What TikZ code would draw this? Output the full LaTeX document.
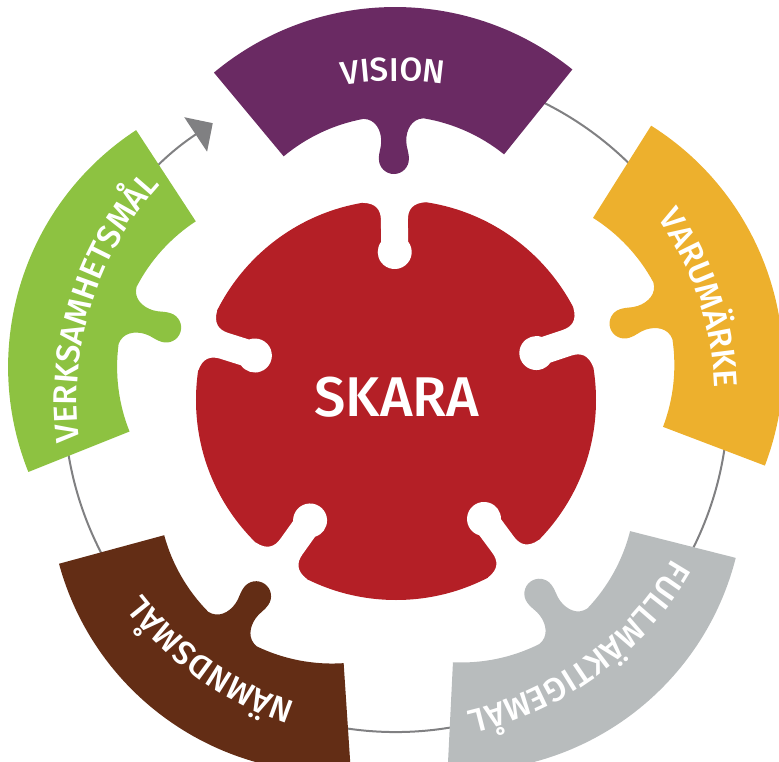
\documentclass[tikz,border=0pt]{standalone}
\usepackage{fontspec}
\setmainfont{Fira Sans}
\newfontfamily\lblfam{Fira Sans}[UprightFont=* Medium]
\usetikzlibrary{arrows.meta, decorations.text}
\definecolor{vision}{RGB}{106, 42, 99}
\definecolor{varumarke}{RGB}{237, 176, 45}
\definecolor{fullmakt}{RGB}{184, 188, 189}
\definecolor{namnd}{RGB}{99, 45, 21}
\definecolor{verksamhet}{RGB}{141, 194, 65}
\definecolor{skara}{RGB}{180, 31, 38}
\definecolor{ringline}{RGB}{128, 128, 130}
\newcommand{\lblfont}{\lblfam\fontsize{33}{36}\selectfont}

% one puzzle piece of the ring: #1 direction, #2 colour, #3 label
\newcommand{\piece}[3]{%
  \begin{scope}[rotate=#1-90]
    \fill[#2] (-179.2,329) arc[start angle=129.3, end angle=50.7, radius=283]
      -- (110.2,244.7) arc[start angle=50.7, end angle=80.07, radius=174]
      .. controls (18,281) and (12.5,270) .. (12.5,259)
      .. controls (12.5,252) and (15,249) .. (15,241)
      arc[start angle=0, end angle=-180, radius=15]
      .. controls (-15,249) and (-12.5,252) .. (-12.5,259)
      .. controls (-12.5,270) and (-18,281) .. (-30,281.4)
      arc[start angle=99.93, end angle=129.3, radius=174]
      -- cycle;
    \path[piecelabel={#3}] (130:319) arc[start angle=130, end angle=50, radius=319];
  \end{scope}}

\begin{document}
\begin{tikzpicture}[x=1pt, y=1pt,
    ring/.style={draw=ringline, line width=2pt},
    piecelabel/.style={decorate, decoration={text along path, text align=center,
        text color=white, text={|\lblfont|#1}}},
    notch/.style={fill=white}]
    \useasboundingbox (-396,-361) rectangle (383,400);
    \clip (-396,-361) rectangle (383,400);

    % Ring with arrow
    \draw[ring, -{Triangle[length=20.5pt, width=41pt]}] (100:332)
        arc[start angle=100, end angle=-236.5, radius=332];

    % Pieces
    \piece{90.5}{vision}{VISION}
    \piece{18.5}{varumarke}{VARUMÄRKE}
    \piece{-53.5}{fullmakt}{FULLMÄKTIGEMÅL}
    \piece{-125.5}{namnd}{NÄMNDSMÅL}
    \piece{162.5}{verksamhet}{VERKSAMHETSMÅL}

    % Centre
    \fill[skara] (0,0) circle[radius=200];
    \foreach \a in {90.5, 18.5, -53.5, -125.5, 162.5} {
        \fill[notch, rotate=\a-90] (31.5,197.5) .. controls (18,197) and (13.5,190) .. (13.5,180)
            -- (13.5,158.3) arc[start angle=37.4, end angle=-217.4, radius=17]
            -- (-13.5,180) .. controls (-13.5,190) and (-18,197) .. (-31.5,197.5)
            -- (-31.5,215) -- (31.5,215) -- cycle;
    }
    \node[text=white, font=\lblfam\fontsize{56}{60}\selectfont] (skara) at (1,3) {SKARA};
\end{tikzpicture}
\end{document}
